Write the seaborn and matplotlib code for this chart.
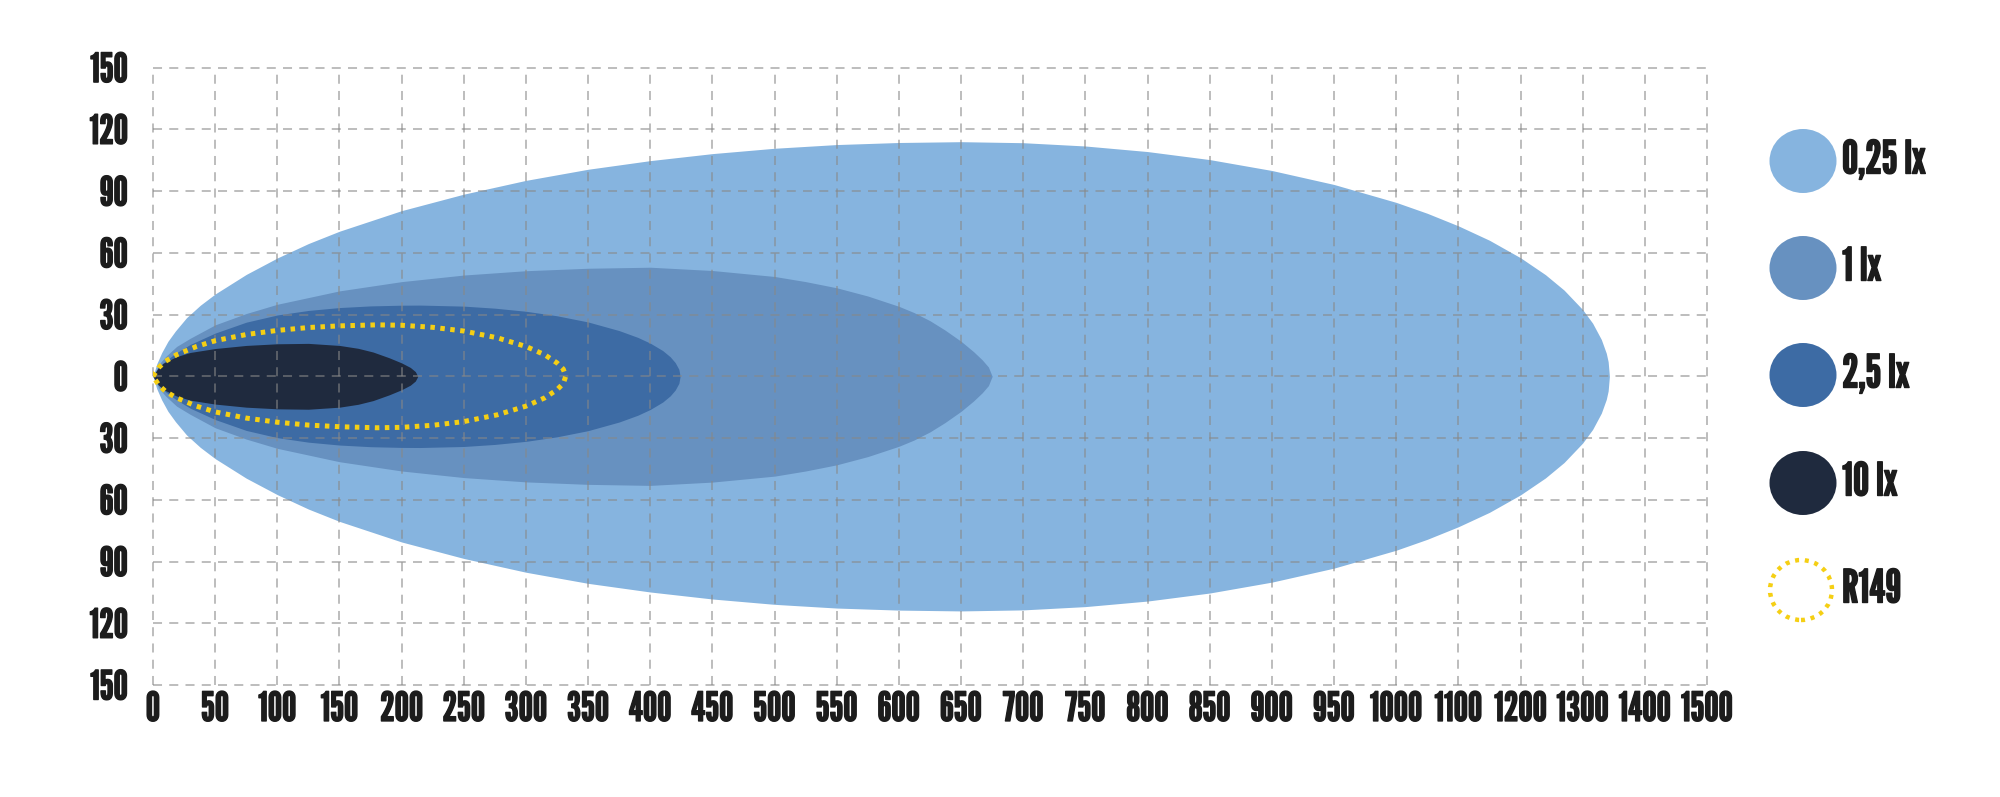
#!/usr/bin/env python3
"""
Light distribution diagram (isolux lines) for a driving lamp
"""

import matplotlib
matplotlib.use("Agg")
import matplotlib.pyplot as plt
import matplotlib.patheffects as pe
import seaborn as sns
import numpy as np
from matplotlib import font_manager
from matplotlib.patches import Ellipse
from matplotlib.ticker import FuncFormatter

# Half-width (m) of each isolux zone against distance (m)
lux_025_x = [0, 3, 7, 12, 18, 27, 38, 50, 75, 100, 125, 150, 200, 250, 300, 350, 400, 450,
             500, 550, 600, 650, 700, 750, 800, 850, 900, 950, 1000, 1050, 1100, 1150,
             1200, 1240, 1270, 1300, 1316, 1330, 1338, 1341, 1343]
lux_025_w = [0, 6, 11.5, 17, 22, 28.5, 34.5, 40, 49.5, 57.5, 64.5, 70.5, 80.5, 88.5, 95.2, 100.6, 104.8, 108.2,
             110.8, 112.6, 113.6, 114, 113.5, 111.9, 109.2, 105.3, 100, 93.2, 84.5, 79.2, 73.1, 66.1,
             57.6, 49.4, 41.9, 32.4, 25.8, 17.9, 11.2, 7.1, 0]

lux_1_x = [0, 5, 10, 19, 30, 50, 75, 100, 150, 200, 250, 300, 350, 400, 450, 500, 525,
           550, 575, 600, 612, 625, 637, 650, 660, 667, 672, 675]
lux_1_w = [0, 6, 9.5, 14.5, 18.5, 25, 30.5, 35, 41.5, 46, 49.2, 51.3, 52.5, 53, 51.4, 48.5, 46,
           43, 39, 34, 31, 27, 22.5, 17, 12, 8, 4.5, 0]

lux_25_x = [0, 5, 10, 19, 30, 50, 75, 100, 125, 150, 175, 200, 215, 250, 275, 300, 325,
            350, 375, 390, 400, 410, 416, 420, 423, 424]
lux_25_w = [0, 4.5, 7.5, 11.5, 15.5, 21, 26.3, 29.8, 32, 33.4, 34.2, 34.55, 34.6, 34.1, 33.1, 31.6, 29.4,
            26.4, 22.2, 18.9, 16.1, 12.5, 9.5, 6.7, 3.4, 0]

lux_10_x = [0, 4, 8, 19, 30, 50, 75, 100, 125, 150, 165, 177, 190, 200, 207, 211, 213]
lux_10_w = [0, 4, 6.3, 9.6, 11.6, 13.5, 15, 15.8, 16, 15, 13.6, 11.8, 9, 6.5, 4.3, 2.3, 0]

r149_x = [0, 5, 10, 19, 35, 50, 75, 100, 125, 150, 180, 200, 225, 250, 277, 300, 315,
          325, 330, 332]
r149_w = [0, 4.5, 7.3, 10.5, 14.5, 17.3, 20.3, 22.3, 23.7, 24.5, 25, 24.8, 23.8, 22, 18.7, 14.5, 10.5,
          6.5, 3.5, 0]

zone_labels = ["0,25 lx", "1 lx", "2,5 lx", "10 lx", "R149"]
zone_colors = ["#86b4df", "#6791c0", "#3d6ba4", "#1f2a3e"]
r149_color = "#f5cf14"

x_ticks = list(range(0, 1001, 50)) + [1100, 1200, 1300, 1400, 1500]
y_ticks = [-150, -120, -90, -60, -30, 0, 30, 60, 90, 120, 150]


def has_font(name):
    try:
        font_manager.findfont(name, fallback_to_default=False)
        return True
    except ValueError:
        return False


# Style: a narrow heavy gothic face like the original artwork
sns.set_style("white")
if has_font('League Gothic'):
    face, y_size, x_size, leg_size, stroke = 'League Gothic', 29, 29, 33, 1.0
else:
    face, y_size, x_size, leg_size, stroke = 'Oswald', 24, 22, 26, 1.5
plt.rcParams['font.family'] = [face, 'Barlow Condensed', 'DejaVu Sans']
plt.rcParams['font.weight'] = 'bold'
text_color = '#1c1c1c'
heavy = [pe.withStroke(linewidth=stroke, foreground=text_color)]


# beyond 1000 m the axis is drawn at half scale
def fwd(x):
    x = np.asarray(x, dtype=float)
    return np.where(x <= 1000, x, 1000 + (x - 1000) / 2)


def inv(x):
    x = np.asarray(x, dtype=float)
    return np.where(x <= 1000, x, 1000 + (x - 1000) * 2)


fig = plt.figure(figsize=(20, 7.97), dpi=100)
ax = fig.add_axes([0.0765, 0.1405, 0.777, 0.7747])
ax.set_xscale('function', functions=(fwd, inv))

zones = [(lux_025_x, lux_025_w), (lux_1_x, lux_1_w), (lux_25_x, lux_25_w), (lux_10_x, lux_10_w)]
for (xs, ws), color in zip(zones, zone_colors):
    xs = np.array(xs, dtype=float)
    ws = np.array(ws, dtype=float)
    ax.fill_between(xs, -ws, ws, color=color, lw=0, zorder=1)

# R149 outline (closed loop)
rx = np.array(r149_x, dtype=float)
rw = np.array(r149_w, dtype=float)
loop_x = np.concatenate([rx, rx[::-1]])
loop_y = np.concatenate([rw, -rw[::-1]])
sns.lineplot(x=loop_x, y=loop_y, sort=False, estimator=None, ax=ax, color=r149_color,
             lw=3.6, linestyle=(0, (0.9, 1.1)), dash_capstyle='butt', zorder=4)

ax.set_xlim(0, 1500)
ax.set_ylim(-150, 150)
ax.set_xticks(x_ticks)
ax.set_yticks(y_ticks)
ax.yaxis.set_major_formatter(FuncFormatter(lambda v, p: f"{abs(int(v))}"))
ax.xaxis.set_major_formatter(FuncFormatter(lambda v, p: f"{int(round(v))}"))
ax.tick_params(axis='both', length=0, labelcolor=text_color)
ax.tick_params(axis='y', pad=18, labelsize=y_size)
ax.tick_params(axis='x', pad=5, labelsize=x_size)
for lab in ax.get_xticklabels() + ax.get_yticklabels():
    lab.set_fontweight('bold')
    lab.set_path_effects(heavy)

ax.grid(True, color='#888888', alpha=0.6, lw=1.3, linestyle=(0, (5, 4)), zorder=3)
ax.set_axisbelow(False)
for gl in ax.get_xgridlines() + ax.get_ygridlines():
    gl.set_clip_on(False)
for s in ax.spines.values():
    s.set_visible(False)
ax.set_xlabel('')
ax.set_ylabel('')

# Legend drawn as big round swatches at the right
leg_y = [161, 268, 375, 483, 590]
W, H = 2000.0, 797.0
for i, lab in enumerate(zone_labels):
    cy = 1 - leg_y[i] / H
    if i < 4:
        e = Ellipse((1803 / W, cy), 67 / W, 64 / H, transform=fig.transFigure,
                    facecolor=zone_colors[i], edgecolor='none')
    else:
        e = Ellipse((1801 / W, cy), 62 / W, 60 / H, transform=fig.transFigure,
                    facecolor='none', edgecolor=r149_color, lw=3.2,
                    linestyle=(0, (0.9, 1.3)))
    fig.add_artist(e)
    fig.text(1842 / W, cy, lab, fontsize=leg_size, fontweight='bold', color=text_color,
             va='center', ha='left', path_effects=heavy)

plt.savefig('out.png', dpi=100)
plt.close()
